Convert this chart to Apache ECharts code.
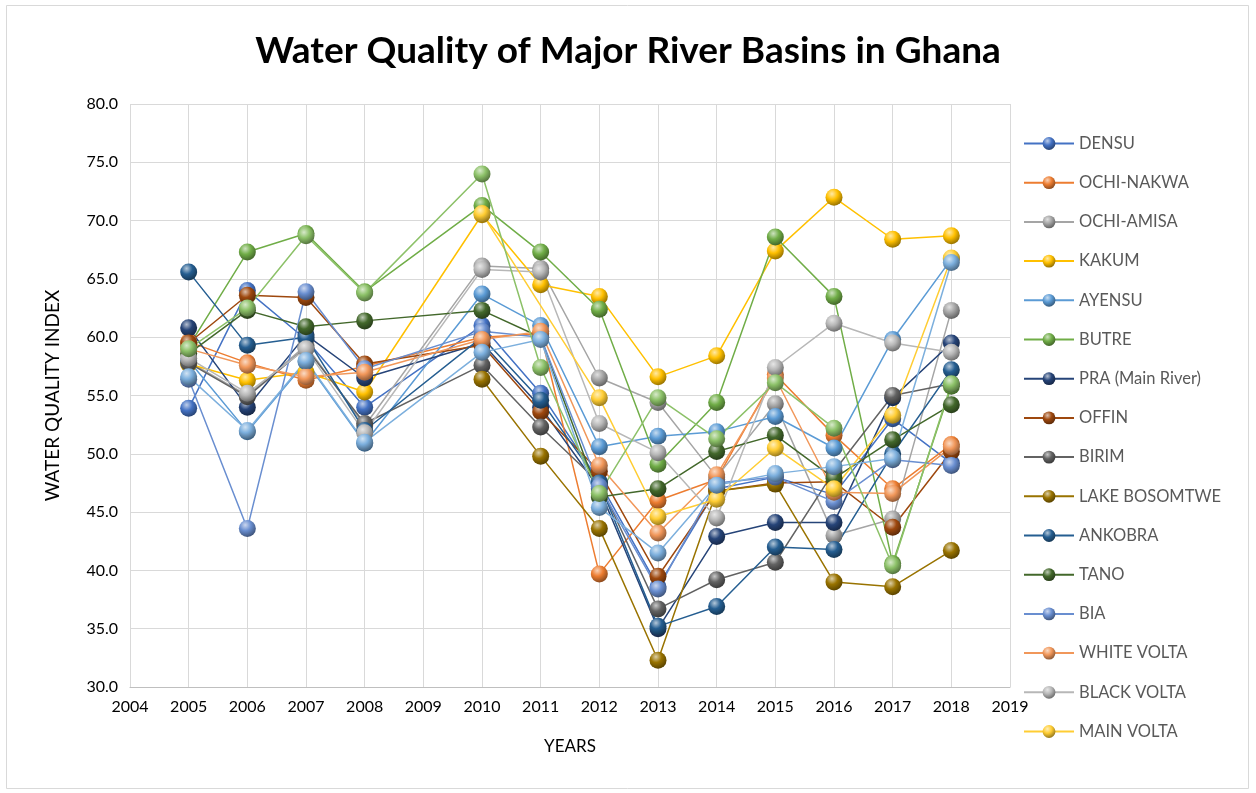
<!DOCTYPE html>
<html>
<head>
<meta charset="utf-8">
<script src="https://cdn.jsdelivr.net/npm/echarts@6/dist/echarts.min.js"></script>
<style>html,body{margin:0;padding:0;background:#fff}#c{width:1256px;height:793px}</style>
</head>
<body>
<div id="c"></div>
<script>
// Years with data (2009 has no data)
const years = [2005, 2006, 2007, 2008, 2010, 2011, 2012, 2013, 2014, 2015, 2016, 2017, 2018];
const yTicks = [30, 35, 40, 45, 50, 55, 60, 65, 70, 75, 80];

const DENSU        = [53.9, 64.0, 59.8, 54.0, 61.0, 55.2, 47.6, 38.6, 47.0, 48.0, 46.5, 53.0, 49.2];
const OCHI_NAKWA   = [59.6, 57.8, 56.3, 57.5, 60.0, 60.3, 39.7, 46.0, 47.8, 56.8, 51.6, 47.0, 50.8];
const OCHI_AMISA   = [57.9, 55.0, 59.3, 52.4, 66.1, 65.9, 56.5, 54.4, 48.0, 54.3, 43.0, 44.4, 62.3];
const KAKUM        = [57.7, 56.3, 57.0, 55.3, 70.5, 64.5, 63.5, 56.6, 58.4, 67.4, 72.0, 68.4, 68.7];
const AYENSU       = [58.0, 51.9, 57.9, 50.9, 63.7, 61.0, 50.6, 51.5, 51.9, 53.2, 50.5, 59.8, 66.7];
const BUTRE        = [59.2, 67.3, 68.9, 63.9, 71.3, 67.3, 62.4, 49.1, 54.4, 68.6, 63.5, 40.6, 55.8];
const PRA          = [60.8, 54.0, 60.2, 56.5, 59.5, 54.0, 47.0, 35.0, 42.9, 44.1, 44.1, 54.8, 59.5];
const OFFIN        = [59.5, 63.6, 63.4, 57.7, 59.3, 53.6, 48.5, 39.5, 46.8, 47.5, 47.6, 43.7, 50.2];
const BIRIM        = [57.8, 54.9, 59.1, 52.6, 57.6, 52.3, 47.5, 36.7, 39.2, 40.7, 48.5, 55.0, 56.0];
const LAKE_BOSOMTWE= [null, null, null, null, 56.4, 49.8, 43.6, 32.3, 46.8, 47.4, 39.0, 38.6, 41.7];
const ANKOBRA      = [65.6, 59.3, 60.0, 52.0, 60.0, 54.6, 47.5, 35.2, 36.9, 42.0, 41.8, 50.0, 57.2];
const TANO         = [58.6, 62.3, 60.9, 61.4, 62.3, 60.0, 46.3, 47.0, 50.2, 51.6, 47.9, 51.2, 54.2];
const BIA          = [56.4, 43.6, 63.9, 57.3, 60.5, 60.0, 47.2, 38.4, 47.5, 48.0, 45.9, 49.5, 49.0];
const WHITE_VOLTA  = [59.0, 57.6, 56.6, 57.0, 59.8, 60.5, 49.0, 43.2, 48.2, 56.5, 46.7, 46.6, 50.6];
const BLACK_VOLTA  = [58.2, 55.2, 59.0, 51.8, 65.8, 65.6, 52.6, 50.1, 44.5, 57.4, 61.2, 59.5, 58.7];
const MAIN_VOLTA   = [null, null, null, null, 70.6, null, 54.8, 44.6, 46.1, 50.5, 47.0, 53.3, 66.8];
// two further series drawn in the chart but not shown in its legend
const SERIES_17    = [56.6, 52.0, 58.0, 51.0, 58.7, 59.8, 45.4, 41.5, 47.3, 48.3, 48.9, 49.6, 66.4];
const SERIES_18    = [59.0, 62.5, 68.7, 63.8, 74.0, 57.4, 46.6, 54.8, 51.3, 56.1, 52.2, 40.4, 56.0];

const seriesNames = ['DENSU','OCHI-NAKWA','OCHI-AMISA','KAKUM','AYENSU','BUTRE','PRA (Main River)','OFFIN','BIRIM','LAKE BOSOMTWE','ANKOBRA','TANO','BIA','WHITE VOLTA','BLACK VOLTA','MAIN VOLTA','Series17','Series18'];
const seriesValues = [DENSU,OCHI_NAKWA,OCHI_AMISA,KAKUM,AYENSU,BUTRE,PRA,OFFIN,BIRIM,LAKE_BOSOMTWE,ANKOBRA,TANO,BIA,WHITE_VOLTA,BLACK_VOLTA,MAIN_VOLTA,SERIES_17,SERIES_18];
const legendNames = seriesNames.slice(0, 16);

const colors = ['#4472C4','#ED7D31','#A5A5A5','#FFC000','#5B9BD5','#70AD47','#264478','#9E480E','#636363','#997300','#255E91','#43682B','#698ED0','#F1975A','#B7B7B7','#FFCD33','#7CAFDD','#8CC168'];

function mix(hex, target, f) {
  const n = parseInt(hex.slice(1), 16);
  let r = (n >> 16) & 255, g = (n >> 8) & 255, b = n & 255;
  r = Math.round(r + (target - r) * f);
  g = Math.round(g + (target - g) * f);
  b = Math.round(b + (target - b) * f);
  return 'rgb(' + r + ',' + g + ',' + b + ')';
}
function sphere(hex) {
  return {
    type: 'radial', x: 0.38, y: 0.3, r: 0.75,
    colorStops: [
      { offset: 0, color: mix(hex, 255, 0.65) },
      { offset: 0.45, color: hex },
      { offset: 1, color: mix(hex, 0, 0.45) }
    ]
  };
}

const series = seriesValues.map((vals, i) => ({
  name: seriesNames[i],
  type: 'line',
  data: years.map((y, j) => [y, vals[j]]).filter(p => p[1] !== null),
  symbol: 'circle',
  symbolSize: 17,
  lineStyle: { color: colors[i], width: 1.5 },
  itemStyle: { color: sphere(colors[i]), borderWidth: 0 },
  color: colors[i],
  emphasis: { disabled: true },
  animation: false
}));

const chart = echarts.init(document.getElementById('c'), null, { renderer: 'canvas' });
chart.setOption({
  backgroundColor: '#fff',
  animation: false,
  title: {
    text: 'Water Quality of Major River Basins in Ghana',
    left: 'center', top: 28,
    textStyle: { fontFamily: 'Lato', fontWeight: 'bold', fontSize: 37, color: '#000' }
  },
  graphic: [{
    type: 'rect', shape: { x: 6.5, y: 5.5, width: 1242, height: 783 },
    style: { fill: 'none', stroke: '#d9d9d9', lineWidth: 1 }, silent: true
  }],
  legend: {
    data: legendNames,
    orient: 'vertical',
    left: 1023, top: 135, padding: 0,
    itemWidth: 50, itemHeight: 16, itemGap: 22.2,
    textStyle: { fontFamily: 'Lato', fontSize: 16.5, color: '#595959' }
  },
  grid: { left: 130, right: 246, top: 104, bottom: 106 },
  xAxis: {
    type: 'value', min: 2004, max: 2019, interval: 1,
    name: 'YEARS', nameLocation: 'middle', nameGap: 51,
    nameTextStyle: { fontFamily: 'Lato', fontSize: 17, color: '#000' },
    axisLabel: { formatter: v => String(v), fontFamily: 'Lato', fontSize: 16, color: '#000', margin: 12 },
    axisLine: { lineStyle: { color: '#bfbfbf' } },
    axisTick: { show: false },
    splitLine: { show: true, lineStyle: { color: '#d9d9d9' } }
  },
  yAxis: {
    type: 'value', min: yTicks[0], max: yTicks[yTicks.length - 1], interval: 5,
    name: 'WATER QUALITY INDEX', nameLocation: 'middle', nameGap: 68, nameRotate: 90,
    nameTextStyle: { fontFamily: 'Lato', fontSize: 19, color: '#000' },
    axisLabel: { formatter: v => v.toFixed(1), fontFamily: 'Lato', fontSize: 16, color: '#000', margin: 12 },
    axisLine: { show: false },
    axisTick: { show: false },
    splitLine: { show: true, lineStyle: { color: '#d9d9d9' } }
  },
  series: series
});
</script>
</body>
</html>
